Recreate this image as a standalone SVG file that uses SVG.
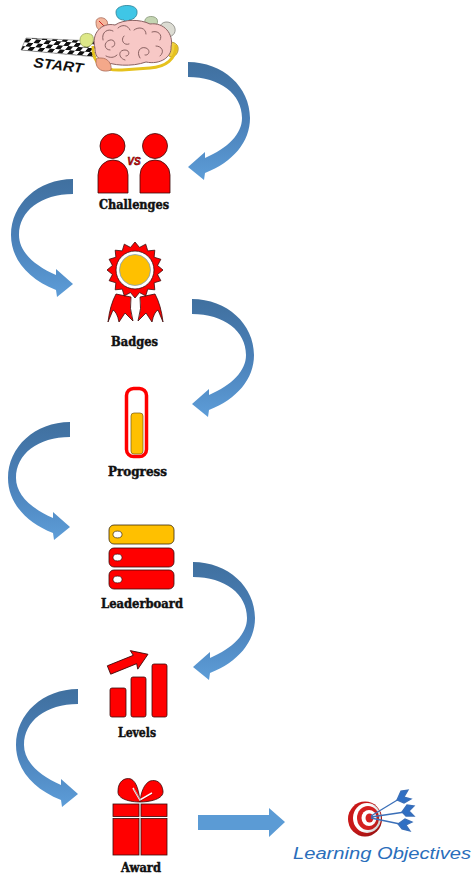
<svg xmlns="http://www.w3.org/2000/svg" xmlns:xlink="http://www.w3.org/1999/xlink" width="473" height="874" viewBox="0 0 473 874">
  <style>
    .lbl { font-family: "DejaVu Serif", "Liberation Serif", serif; font-weight: bold; font-size: 12px; fill: #111; stroke: #111; stroke-width: 0.45; text-anchor: middle; }
    .red { fill: #ff0000; stroke: #3a0a0a; stroke-width: 0.8; }
    .fold { fill: none; stroke: #8a6262; stroke-width: 1; stroke-linecap: round; }
  </style>
  <defs>
    <linearGradient id="blueG" x1="0" y1="0" x2="0" y2="1">
      <stop offset="0" stop-color="#40709f"/>
      <stop offset="0.5" stop-color="#4a80b8"/>
      <stop offset="1" stop-color="#5d9dd8"/>
    </linearGradient>
    <radialGradient id="targetShade" cx="0.35" cy="0.4" r="0.7">
      <stop offset="0.6" stop-color="#000" stop-opacity="0"/>
      <stop offset="1" stop-color="#000" stop-opacity="0.25"/>
    </radialGradient>
    <pattern id="chk" width="10" height="8" patternUnits="userSpaceOnUse" patternTransform="rotate(5) skewX(-35)">
      <rect width="10" height="8" fill="#fff"/>
      <rect x="0" y="0" width="5" height="4" fill="#111"/>
      <rect x="5" y="4" width="5" height="4" fill="#111"/>
    </pattern>
    <!-- curved arrow bowing right, tail at top-left, head pointing back left -->
    <path id="arcR" fill="url(#blueG)" d="M0,0 C35,0 62,25 62,56 C62,80 45,100 17,111 L16,118 L0,105 L17,90 L17,96 C40,86 54,72 54,56 C54,32 32,15 0,15 Z"/>
  </defs>

  <!-- connectors -->
  <g id="connectors">
    <use xlink:href="#arcR" transform="translate(188,62)"/>
    <use xlink:href="#arcR" transform="translate(73,179) scale(-1,1)"/>
    <use xlink:href="#arcR" transform="translate(192,299)"/>
    <use xlink:href="#arcR" transform="translate(70,422) scale(-1,1)"/>
    <use xlink:href="#arcR" transform="translate(193,562)"/>
    <use xlink:href="#arcR" transform="translate(78,689) scale(-1,1)"/>
    <polygon fill="#5b9bd5" points="198,815 269,815 269,808 285,822 269,837 269,830 198,830"/>
  </g>

  <!-- start: flag strip and brain with thought bubbles -->
  <g id="start">
    <polygon points="26,38 96,41 96,57 21,50" fill="url(#chk)" stroke="#555" stroke-width="0.5"/>
    <text x="33" y="67" transform="rotate(7 33 67)" font-family="Liberation Sans, Arial, sans-serif" font-weight="bold" font-style="italic" font-size="14" fill="#111" textLength="50" lengthAdjust="spacingAndGlyphs">START</text>
    <!-- bubbles -->
    <path d="M116,12 C116,4 136,3 137,11 C138,18 131,20 129,20 L128,26 L124,20 C119,20 116,17 116,12 Z" fill="#3fc6e6" stroke="#2a7f94" stroke-width="0.8"/>
    <path d="M96,22 C96,17 104,16 107,21 C109,26 106,30 101,30 C97,30 96,26 96,22 Z" fill="#f5b69c" stroke="#a86c5a" stroke-width="0.8"/>
    <line x1="99" y1="21" x2="104" y2="26" stroke="#d02020" stroke-width="1"/>
    <path d="M80,40 C80,33 88,32 92,35 C95,39 93,46 87,47 C82,47 80,44 80,40 Z" fill="#dde888" stroke="#9aa55a" stroke-width="0.8"/>
    <path d="M145,20 C146,16 154,15 157,19 C159,24 155,28 150,28 C146,27 144,24 145,20 Z" fill="#c4d5b2" stroke="#879677" stroke-width="0.8"/>
    <path d="M160,27 C161,21 170,20 174,26 C177,31 174,37 167,37 C162,37 159,32 160,27 Z" fill="#dcdcd3" stroke="#85857f" stroke-width="0.8"/>
    <path d="M167,45 C168,41 176,41 178,47 C179,53 175,57 171,57 C167,56 166,50 167,45 Z" fill="#f0d040" stroke="#a88a20" stroke-width="0.8"/>
    <!-- brain -->
    <path d="M93,46 C92,64 104,71 122,70 L150,68 C166,67 176,59 176,45" fill="none" stroke="#e6c21e" stroke-width="3"/>
    <path d="M95,48 C91,34 101,22 115,25 C124,19 140,19 150,24 C164,22 174,34 171,47 C172,57 160,65 146,62 C132,67 112,66 101,60 C96,57 95,53 95,48 Z" fill="#f7c8c6" stroke="#8a6262" stroke-width="1"/>
    <path class="fold" d="M103,40 C101,32 108,28 113,31 M110,50 C104,50 103,42 110,40 C116,39 116,47 112,47"/>
    <path class="fold" d="M118,28 C122,24 128,25 130,30 M124,36 C120,40 124,46 129,44 M134,30 C139,26 146,28 146,34"/>
    <path class="fold" d="M125,60 C118,58 118,50 125,50 C130,50 130,56 126,56 M140,58 C136,52 140,46 146,48 C151,50 149,56 145,55"/>
    <path class="fold" d="M152,32 C158,30 163,35 160,40 M156,46 C162,46 165,52 160,56 M106,56 C110,58 114,58 117,55"/>
    <path d="M96,60 C95,70 104,73 111,70 C112,64 108,58 101,58 C98,58 96,58 96,60 Z" fill="#f4a88a" stroke="#a86a55" stroke-width="0.8"/>
  </g>

  <!-- challenges -->
  <g id="challenges">
    <circle class="red" cx="112.5" cy="146" r="12.5"/>
    <path class="red" d="M98,193 V175 A15 15 0 0 1 128,175 V193 Z"/>
    <circle class="red" cx="155" cy="146" r="12.5"/>
    <path class="red" d="M140,193 V175 A15 15 0 0 1 170,175 V193 Z"/>
    <text x="134" y="165" font-family="Liberation Sans, Arial, sans-serif" font-weight="bold" font-style="italic" font-size="10" fill="#ff0000" stroke="#3a0a0a" stroke-width="0.5" text-anchor="middle">VS</text>
    <text class="lbl" x="134" y="209" textLength="70" lengthAdjust="spacingAndGlyphs">Challenges</text>
  </g>

  <!-- badges -->
  <g id="badges">
    <path class="red" d="M116,294 L131,297 Q129,308 133,321 L125,313 L119,322 Q117,312 113,310 L108,322 Q110,305 116,294 Z"/>
    <path class="red" d="M155,294 L140,297 Q142,308 138,321 L146,313 L152,322 Q154,312 158,310 L163,322 Q161,305 155,294 Z"/>
    <polygon class="red" points="163,270 157.56,274.49 160.87,280.71 154.12,282.78 154.8,289.8 147.78,289.12 145.71,295.87 139.49,292.56 135,298 130.51,292.56 124.29,295.87 122.22,289.12 115.2,289.8 115.88,282.78 109.13,280.71 112.44,274.49 107,270 112.44,265.51 109.13,259.29 115.88,257.22 115.2,250.2 122.22,250.88 124.29,244.13 130.51,247.44 135,242 139.49,247.44 145.71,244.13 147.78,250.88 154.8,250.2 154.12,257.22 160.87,259.29 157.56,265.51"/>
    <circle cx="135" cy="270" r="19" fill="#fff" stroke="#3a0a0a" stroke-width="0.8"/>
    <circle cx="135" cy="270" r="15.5" fill="#ffc000" stroke="#7fa0c0" stroke-width="0.8"/>
    <text class="lbl" x="134.5" y="346" textLength="47" lengthAdjust="spacingAndGlyphs">Badges</text>
  </g>

  <!-- progress -->
  <g id="progress">
    <rect x="126.5" y="388.5" width="20" height="68" rx="7" fill="#fff" stroke="#ff0000" stroke-width="3.5"/>
    <rect x="131" y="413" width="12" height="41" rx="3" fill="#ffc000" stroke="#7a5a10" stroke-width="0.7"/>
    <text class="lbl" x="137.5" y="476" textLength="59" lengthAdjust="spacingAndGlyphs">Progress</text>
  </g>

  <!-- leaderboard -->
  <g id="leaderboard">
    <rect x="109" y="525" width="65" height="19" rx="5" fill="#ffc000" stroke="#3a2a0a" stroke-width="0.8"/>
    <rect class="red" x="109" y="548" width="65" height="19" rx="5"/>
    <rect class="red" x="109" y="570" width="65" height="19" rx="5"/>
    <ellipse cx="117.5" cy="534.5" rx="4.5" ry="3.4" fill="#fff" stroke="#3a2a0a" stroke-width="0.7"/>
    <ellipse cx="117.5" cy="557.5" rx="4.5" ry="3.4" fill="#fff" stroke="#3a0a0a" stroke-width="0.7"/>
    <ellipse cx="117.5" cy="579.5" rx="4.5" ry="3.4" fill="#fff" stroke="#3a0a0a" stroke-width="0.7"/>
    <text class="lbl" x="142" y="608" textLength="82" lengthAdjust="spacingAndGlyphs">Leaderboard</text>
  </g>

  <!-- levels -->
  <g id="levels">
    <rect class="red" x="110" y="688" width="16" height="29" rx="2"/>
    <rect class="red" x="131" y="677" width="15" height="40" rx="2"/>
    <rect class="red" x="152" y="664" width="15" height="53" rx="2"/>
    <path class="red" transform="translate(109,670) rotate(-22)" d="M0,-4.5 L28,-4.5 L27,-10 L42,0 L27,10 L28,4.5 L0,4.5 Z"/>
    <text class="lbl" x="137" y="737" textLength="38" lengthAdjust="spacingAndGlyphs">Levels</text>
  </g>

  <!-- award -->
  <g id="award">
    <path class="red" d="M140,802 C130,802 117,799 118,791 C118,782 124,777 131,779 C137,782 139,792 140,802 Z"/>
    <path class="red" d="M140,802 C150,802 164,799 163,791 C162,783 157,779 150,781 C144,784 141,792 140,802 Z"/>
    <path d="M133,788 L140,800 L152,793" fill="none" stroke="#fff" stroke-width="1.5"/>
    <path d="M133,788 L140,800 L152,793" fill="none" stroke="#3a0a0a" stroke-width="0.4" transform="translate(0.8,0.8)"/>
    <rect class="red" x="113" y="804" width="26" height="12.5"/>
    <rect class="red" x="141" y="804" width="26" height="12.5"/>
    <rect class="red" x="113" y="818.5" width="26" height="36.5"/>
    <rect class="red" x="141" y="818.5" width="26" height="36.5"/>
    <text class="lbl" x="141" y="872" textLength="40" lengthAdjust="spacingAndGlyphs">Award</text>
  </g>

  <!-- learning objectives: target with darts -->
  <g id="objectives">
    <ellipse cx="365" cy="819" rx="17" ry="17.5" fill="#c81818"/>
    <ellipse cx="367" cy="818" rx="14" ry="15" fill="#fff"/>
    <ellipse cx="368" cy="818" rx="11" ry="12" fill="#d42020"/>
    <ellipse cx="369" cy="818" rx="7.5" ry="8" fill="#fff"/>
    <ellipse cx="369.5" cy="818" rx="4" ry="4.5" fill="#d42020"/>
    <ellipse cx="365" cy="819" rx="17" ry="17.5" fill="url(#targetShade)"/>
    <g stroke="#3a6fb8" stroke-width="1.3" fill="#2f6fc4">
      <line x1="371" y1="816" x2="399" y2="799"/>
      <line x1="371" y1="817" x2="405" y2="812"/>
      <line x1="371" y1="818" x2="400" y2="824"/>
      <path d="M397,800 L401,791 L408,790 L404,797 L411,799 L404,803 Z"/>
      <path d="M402,812 L407,805 L414,806 L409,811 L414,816 L406,816 Z"/>
      <path d="M398,824 L405,819 L412,822 L406,825 L410,831 L402,829 Z"/>
    </g>
    <text x="293" y="859" font-family="Liberation Sans, Arial, sans-serif" font-style="italic" font-size="16" fill="#2a6ebb" textLength="178" lengthAdjust="spacingAndGlyphs">Learning Objectives</text>
  </g>
</svg>
